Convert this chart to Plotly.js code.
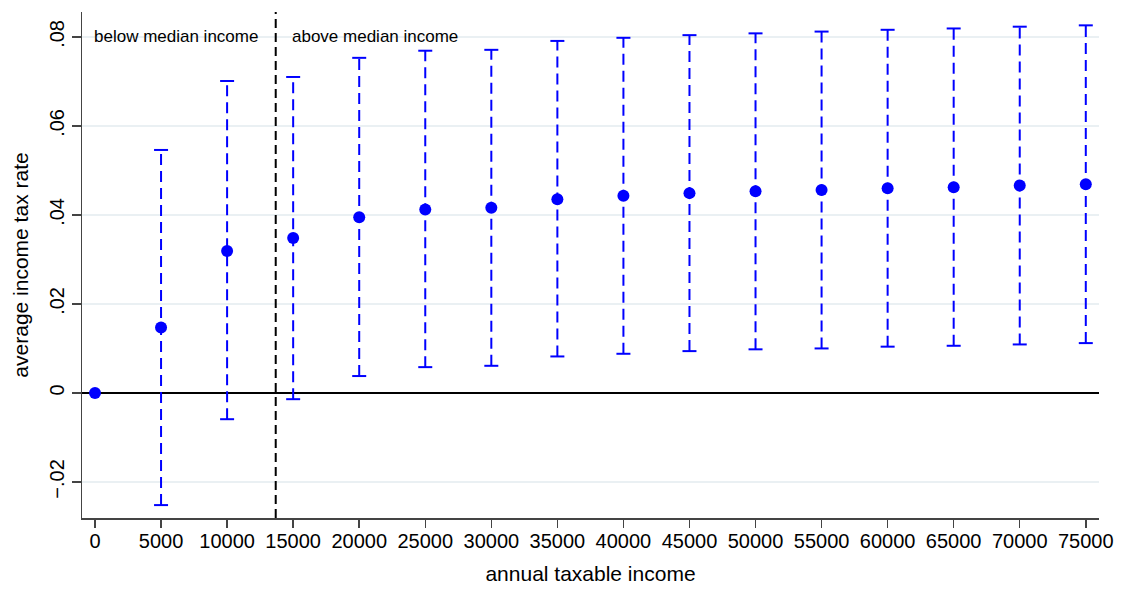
<!DOCTYPE html>
<html>
<head>
<meta charset="utf-8">
<script src="https://cdn.plot.ly/plotly-3.0.1.min.js"></script>
<style>html,body{margin:0;padding:0;background:#fff;}#chart{width:1124px;height:590px;}</style>
</head>
<body>
<div id="chart"></div>
<script>
// ---- data ----
const income = [0, 5000, 10000, 15000, 20000, 25000, 30000, 35000, 40000, 45000, 50000, 55000, 60000, 65000, 70000, 75000];
const avgTaxRate = [0, 0.0147, 0.0319, 0.0348, 0.0395, 0.0412, 0.0416, 0.0435, 0.0443, 0.0449, 0.0453, 0.0456, 0.0460, 0.0462, 0.0466, 0.0469];
const ciLower = [0, -0.0252, -0.0059, -0.0014, 0.0038, 0.0058, 0.0061, 0.0082, 0.0088, 0.0094, 0.0098, 0.0100, 0.0104, 0.0106, 0.0109, 0.0112];
const ciUpper = [0, 0.0546, 0.0701, 0.0710, 0.0753, 0.0769, 0.0771, 0.0791, 0.0798, 0.0804, 0.0808, 0.0812, 0.0816, 0.0819, 0.0823, 0.0826];
const medianIncome = 13680;
const xTickVals = [0, 5000, 10000, 15000, 20000, 25000, 30000, 35000, 40000, 45000, 50000, 55000, 60000, 65000, 70000, 75000];
const yTickVals = [-0.02, 0, 0.02, 0.04, 0.06, 0.08];
const yTickText = ['\u2212.02', '0', '.02', '.04', '.06', '.08'];
const regionLabels = ['below median income', 'above median income'];

// ---- build traces ----
const segX = [], segY = [];
income.forEach((x, i) => {
  if (ciUpper[i] !== ciLower[i]) {
    segX.push(x, x, null);
    segY.push(ciLower[i], ciUpper[i], null);
  }
});
const capX = [], capY = [];
income.forEach((x, i) => {
  if (ciUpper[i] !== ciLower[i]) {
    capX.push(x, x);
    capY.push(ciLower[i], ciUpper[i]);
  }
});

const blue = '#0000ff';
const font = 'Liberation Sans, Arial, Helvetica, sans-serif';

const traces = [
  { x: segX, y: segY, mode: 'lines', type: 'scatter', line: { color: blue, width: 2, dash: '11px,6px' }, hoverinfo: 'skip', showlegend: false },
  { x: capX, y: capY, mode: 'markers', type: 'scatter', marker: { symbol: 'line-ew', size: 10, line: { color: blue, width: 2 } }, showlegend: false },
  { x: income, y: avgTaxRate, mode: 'markers', type: 'scatter', marker: { color: blue, size: 12 }, showlegend: false }
];

const layout = {
  width: 1124, height: 590,
  margin: { l: 82, r: 25, t: 12, b: 72 },
  paper_bgcolor: '#ffffff', plot_bgcolor: '#ffffff',
  font: { family: font, color: '#000000' },
  showlegend: false,
  xaxis: {
    range: [-984, 76000],
    tickvals: xTickVals,
    ticktext: xTickVals.map(String),
    tickangle: 0,
    ticks: 'outside', ticklen: 8, tickwidth: 1.5, tickcolor: '#444444',
    showline: true, linecolor: '#444444', linewidth: 1.5,
    showgrid: false, zeroline: false,
    tickfont: { size: 20, family: font, color: '#000' },
    ticklabelstandoff: -4,
    title: { text: 'annual taxable income', font: { size: 21, family: font, color: '#000' }, standoff: 16 }
  },
  yaxis: {
    range: [-0.0281, 0.0856],
    tickvals: yTickVals, ticktext: yTickText,
    tickangle: -90,
    ticks: 'outside', ticklen: 9, tickwidth: 1.5, tickcolor: '#444444',
    showline: true, linecolor: '#444444', linewidth: 1.5,
    showgrid: true, gridcolor: '#eaf0f3', gridwidth: 1.5,
    zeroline: true, zerolinecolor: '#000000', zerolinewidth: 2,
    tickfont: { size: 20, family: font, color: '#000' },
    ticklabelstandoff: 0,
    title: { text: 'average income tax rate', font: { size: 21, family: font, color: '#000' }, standoff: 11 }
  },
  shapes: [
    { type: 'line', xref: 'x', yref: 'paper', x0: medianIncome, x1: medianIncome, y0: 0, y1: 1,
      line: { color: '#000000', width: 2, dash: '9px,5px' } }
  ],
  annotations: [
    { text: regionLabels[0], xref: 'paper', yref: 'y', x: 0.0098, y: 0.08, xanchor: 'left', yanchor: 'middle', showarrow: false, font: { size: 17, family: font, color: '#000' } },
    { text: regionLabels[1], xref: 'paper', yref: 'y', x: 0.2045, y: 0.08, xanchor: 'left', yanchor: 'middle', showarrow: false, font: { size: 17, family: font, color: '#000' } }
  ]
};

Plotly.newPlot('chart', traces, layout, { displayModeBar: false, staticPlot: true });
</script>
</body>
</html>
